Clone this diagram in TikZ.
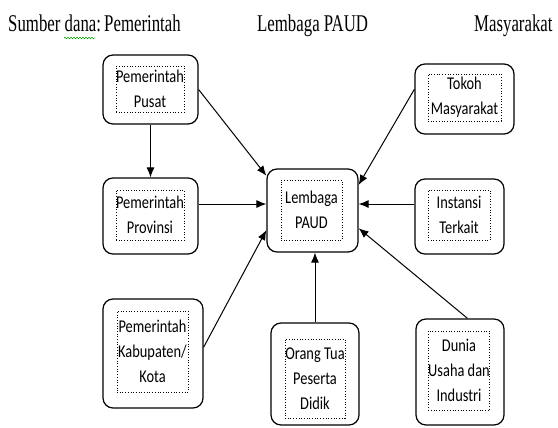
\documentclass[tikz,border=0pt]{standalone}
\usepackage{fontspec}
\setmainfont{Liberation Serif}
\newfontfamily\headfont[FakeStretch=0.7]{Liberation Serif}
\newfontfamily\boxfont[FakeStretch=0.8]{Carlito}
\usetikzlibrary{arrows.meta}
\usetikzlibrary{decorations.pathmorphing}

\tikzset{
  outerbox/.style={draw, line width=1.2pt, rounded corners=10pt, inner sep=0pt},
  innerbox/.style={draw, dotted, line width=0.7pt, inner sep=0pt, align=center,
    font=\boxfont\fontsize{18}{25}\selectfont},
  headtext/.style={anchor=base west, inner sep=0pt, font=\headfont\fontsize{24}{26}\selectfont},
  flow/.style={line width=1pt, -{Latex[length=10pt,width=8pt]}}
}

\begin{document}
\begin{tikzpicture}[x=1pt,y=-1pt]
\useasboundingbox (0,0) rectangle (558,428);
% header
\node[headtext] (sumber) at (8,32) {Sumber dana:};
\node[headtext] (hpem) at (104,32) {Pemerintah};
\node[headtext] (hpaud) at (257,32) {Lembaga PAUD};
\node[headtext] (hmas) at (474,32) {Masyarakat};
\draw[green!60!black, line width=0.5pt, decorate, decoration={snake, amplitude=0.8pt, segment length=3pt}] (64,38) -- (95,38);
% pemerintah side
\node[outerbox, minimum width=95pt, minimum height=69pt] (pusat) at (150.5,89.5) {};
\node[innerbox, minimum width=66pt, minimum height=46pt] (pusat-t) at (150,89) {Pemerintah\\Pusat};
\node[outerbox, minimum width=95pt, minimum height=76pt] (prov) at (150.5,216) {};
\node[innerbox, minimum width=66pt, minimum height=50pt] (prov-t) at (150,215) {Pemerintah\\Provinsi};
\node[outerbox, minimum width=100pt, minimum height=109pt] (kab) at (153,353.5) {};
\node[innerbox, minimum width=71pt, minimum height=81pt] (kab-t) at (152.5,351.5) {Pemerintah\\Kabupaten/\\Kota};
% lembaga
\node[outerbox, minimum width=91pt, minimum height=83pt] (paud) at (312.5,210.5) {};
\node[innerbox, minimum width=61pt, minimum height=60pt] (paud-t) at (311.5,210) {Lembaga\\PAUD};
\node[outerbox, minimum width=88pt, minimum height=102pt] (ortu) at (315,374) {};
\node[innerbox, minimum width=60pt, minimum height=79pt] (ortu-t) at (315,378.5) {Orang Tua\\Peserta\\Didik};
% masyarakat side
\node[outerbox, minimum width=99pt, minimum height=70pt] (tokoh) at (464.5,99) {};
\node[innerbox, minimum width=73pt, minimum height=47pt] (tokoh-t) at (464.5,97.5) {Tokoh\\Masyarakat};
\node[outerbox, minimum width=89pt, minimum height=75pt] (inst) at (459.5,216.5) {};
\node[innerbox, minimum width=62pt, minimum height=50pt] (inst-t) at (459,215) {Instansi\\Terkait};
\node[outerbox, minimum width=88pt, minimum height=106pt] (dunia) at (460,372) {};
\node[innerbox, minimum width=60pt, minimum height=79pt] (dunia-t) at (459,370.5) {Dunia\\Usaha dan\\Industri};
% arrows
\draw[flow] (pusat.south) -- (prov.north);
\draw[flow] (pusat.east) -- (paud.143);
\draw[flow] (prov.east |- paud.172) -- (paud.172);
\draw[flow] (kab.7) -- (paud.203);
\draw[flow] (ortu.north) -- (ortu.north |- paud.south);
\draw[flow] (tokoh.169) -- (paud.29);
\draw[flow] (inst.west |- paud.8) -- (paud.8);
\draw[flow] (dunia.82) -- (paud.339);
\end{tikzpicture}
\end{document}
